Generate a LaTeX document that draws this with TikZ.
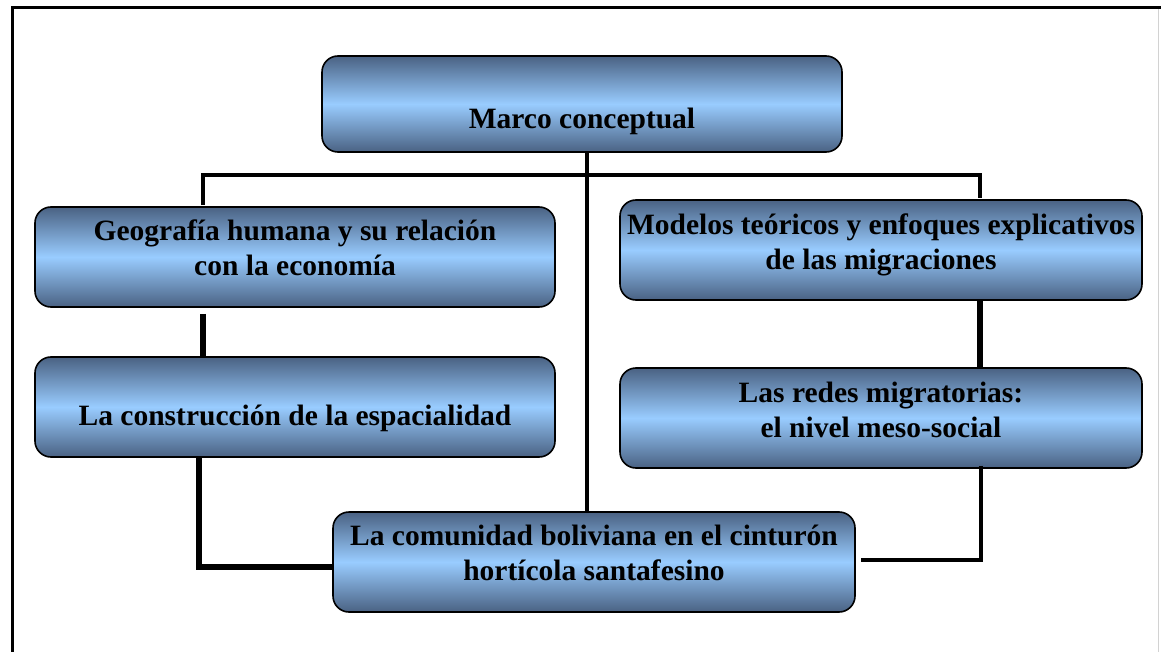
\documentclass[tikz,border=0pt]{standalone}
\usepackage{fontspec}
\setmainfont{Liberation Serif}
\usetikzlibrary{calc}
\definecolor{boxdark}{HTML}{4A6283}
\definecolor{boxlight}{HTML}{99CCFF}
\begin{document}
\begin{tikzpicture}[x=1pt,y=-1pt,
  box/.style={draw=black, line width=1.6pt, rounded corners=16pt, inner sep=0pt,
    top color=boxdark, bottom color=boxdark, middle color=boxlight},
  boxtext/.style={font=\fontsize{29.5}{35}\selectfont\bfseries, align=center, text=black, inner sep=0pt},
  thinconn/.style={draw=black, line width=3.2pt},
  thickconn/.style={draw=black, line width=5.5pt},
]
\useasboundingbox (0,0) rectangle (1161,652);
% frame
\draw[line width=3pt] (1161,8) -- (12,8) -- (12,660);
\draw[gray!35, line width=1pt] (1158,9.5) -- (1158,652);

% boxes
\node[box, minimum width=520pt, minimum height=96pt,
  label={[boxtext, name=marcoT, yshift=-17pt]center:Marco conceptual}] (marco) at (582,104) {};
\node[box, minimum width=520pt, minimum height=100pt,
  label={[boxtext, name=geoT, yshift=9pt]center:{Geografía humana y su relación\\con la economía}}] (geo) at (295,257) {};
\node[box, minimum width=522pt, minimum height=100pt,
  label={[boxtext, name=modT, yshift=5pt]center:{Modelos teóricos y enfoques explicativos\\de las migraciones}}] (mod) at (881,250) {};
\node[box, minimum width=520pt, minimum height=100pt,
  label={[boxtext, name=conT, yshift=-11pt]center:La construcción de la espacialidad}] (con) at (295,407) {};
\node[box, minimum width=522pt, minimum height=100pt,
  label={[boxtext, name=redT, yshift=8pt]center:{Las redes migratorias:\\el nivel meso-social}}] (red) at (881,418) {};

% connector coordinates
\coordinate (jx) at (587,175);
\coordinate (busL) at (203,175);
\coordinate (busR) at (980,175);
\coordinate (conX) at (199,567);
\coordinate (redX) at (981,560);
\coordinate (redEnd) at (861,560);

\node[box, minimum width=522pt, minimum height=100pt,
  label={[boxtext, name=comT, yshift=9pt]center:{La comunidad boliviana en el cinturón\\hortícola santafesino}}] (com) at (594,562) {};

\draw[thinconn] (marco.south -| jx) -- (com.north -| jx);
\draw[thinconn] ($(geo.north -| busL)+(0,-1)$) -- (busL) -- (busR) -- ($(mod.north -| busR)+(0,-1)$);
\draw[thickconn] ($(geo.south -| busL)+(0,6)$) -- (con.north -| busL);
\draw[thickconn] (mod.south -| busR) -- (red.north -| busR);
\draw[thickconn] (con.south -| conX) -- (conX) -- (com.west |- conX);
\draw[thinconn] ($(red.south -| redX)+(0,-3)$) -- (redX) -- (redEnd);
\end{tikzpicture}
\end{document}
